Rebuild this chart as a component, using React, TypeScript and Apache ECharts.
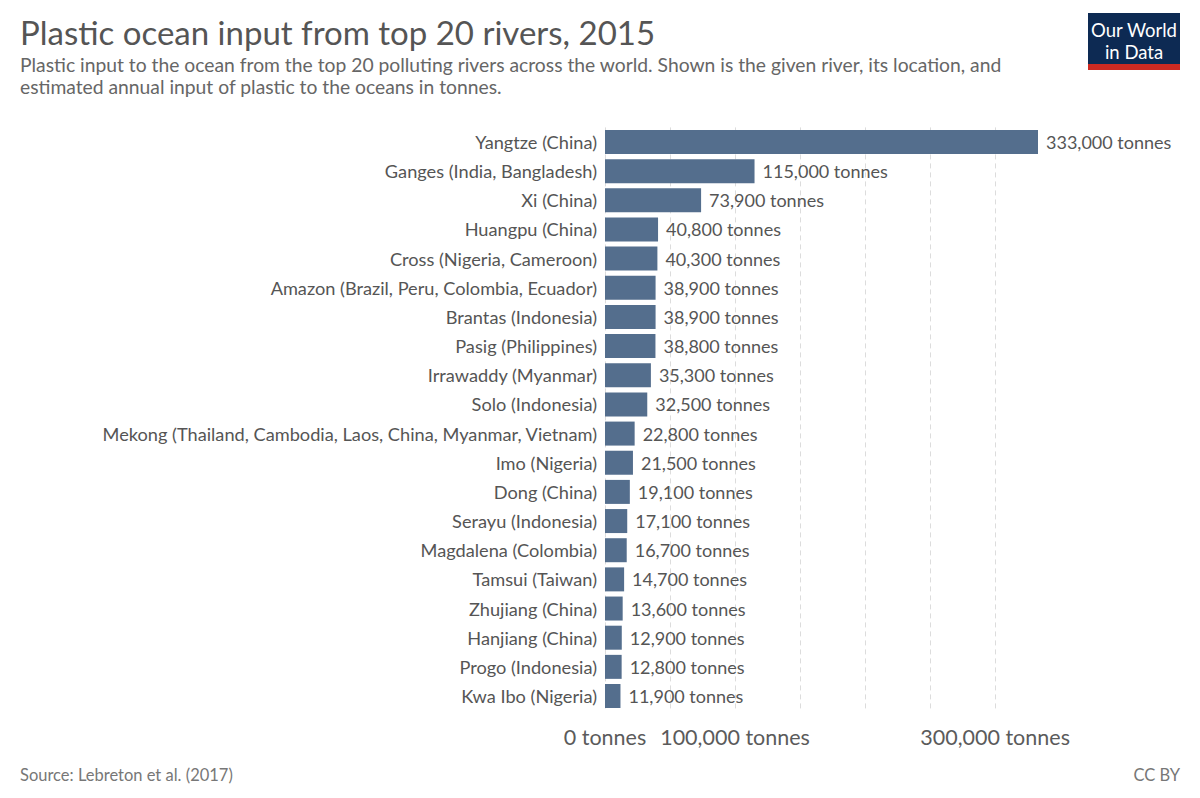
import React, { useEffect, useRef } from "react";
import * as echarts from "echarts";

const rivers = [
  "Yangtze (China)",
  "Ganges (India, Bangladesh)",
  "Xi (China)",
  "Huangpu (China)",
  "Cross (Nigeria, Cameroon)",
  "Amazon (Brazil, Peru, Colombia, Ecuador)",
  "Brantas (Indonesia)",
  "Pasig (Philippines)",
  "Irrawaddy (Myanmar)",
  "Solo (Indonesia)",
  "Mekong (Thailand, Cambodia, Laos, China, Myanmar, Vietnam)",
  "Imo (Nigeria)",
  "Dong (China)",
  "Serayu (Indonesia)",
  "Magdalena (Colombia)",
  "Tamsui (Taiwan)",
  "Zhujiang (China)",
  "Hanjiang (China)",
  "Progo (Indonesia)",
  "Kwa Ibo (Nigeria)",
];

const plasticTonnes = [
  333000, 115000, 73900, 40800, 40300, 38900, 38900, 38800, 35300, 32500,
  22800, 21500, 19100, 17100, 16700, 14700, 13600, 12900, 12800, 11900,
];

const gridValues = [0, 50000, 100000, 150000, 200000, 250000, 300000];
const shownTickLabels = [0, 100000, 300000];

const fmt = (v: number) => v.toLocaleString("en-US") + " tonnes";

export default function App() {
  const ref = useRef<HTMLDivElement>(null);
  useEffect(() => {
    document.body.style.margin = "0";
    if (!ref.current) return;
    const chart = echarts.init(ref.current, null, { renderer: "svg" });
    const font = "Lato, 'Noto Sans', sans-serif";
    chart.setOption({
      animation: false,
      textStyle: { fontFamily: font },
      grid: { left: 605, right: 162, top: 127.4, bottom: 87.4, containLabel: false },
      xAxis: {
        type: "value",
        min: 0,
        max: 333000,
        interval: 50000,
        splitLine: { show: false },
        axisLine: { show: false },
        axisTick: { show: false },
        axisLabel: {
          margin: 15,
          fontSize: 21.5,
          color: "#5b5b5b",
          fontFamily: font,
          showMaxLabel: false,
          formatter: (v: number) => (shownTickLabels.includes(v) ? fmt(v) : ""),
        },
      },
      yAxis: {
        type: "category",
        data: rivers,
        inverse: true,
        axisLine: { show: false },
        axisTick: { show: false },
        axisLabel: { fontSize: 18.2, color: "#555", margin: 8, fontFamily: font },
      },
      series: [
        {
          type: "bar",
          data: plasticTonnes,
          barWidth: 24,
          itemStyle: { color: "#546e8d" },
          label: {
            show: true,
            position: "right",
            distance: 8,
            fontSize: 18,
            color: "#555",
            fontFamily: font,
            formatter: (p: any) => fmt(p.value),
          },
          markLine: {
            silent: true,
            symbol: "none",
            z: 0,
            label: { show: false },
            lineStyle: { color: "#dcdcdc", type: [5, 4], width: 1 },
            data: gridValues.map((v) => ({ xAxis: v })),
          },
          z: 2,
        },
      ],
      graphic: [
        {
          type: "text",
          left: 20,
          top: 15,
          style: {
            text: "Plastic ocean input from top 20 rivers, 2015",
            fontSize: 33,
            fill: "#555",
            fontFamily: font,
          },
        },
        {
          type: "text",
          left: 20,
          top: 53,
          style: {
            text:
              "Plastic input to the ocean from the top 20 polluting rivers across the world. Shown is the given river, its location, and\nestimated annual input of plastic to the oceans in tonnes.",
            fontSize: 19.3,
            lineHeight: 22,
            fill: "#666",
            fontFamily: font,
          },
        },
        {
          type: "rect",
          shape: { x: 1088, y: 13, width: 92, height: 57 },
          style: { fill: "#0d2a53" },
        },
        {
          type: "rect",
          shape: { x: 1088, y: 64, width: 92, height: 6 },
          style: { fill: "#cd2a22" },
        },
        {
          type: "text",
          x: 1134,
          y: 30,
          style: {
            text: "Our World",
            fontSize: 18.5,
            fill: "#fff",
            align: "center",
            verticalAlign: "middle",
            fontFamily: font,
          },
        },
        {
          type: "text",
          x: 1134,
          y: 52,
          style: {
            text: "in Data",
            fontSize: 18.5,
            fill: "#fff",
            align: "center",
            verticalAlign: "middle",
            fontFamily: font,
          },
        },
        {
          type: "text",
          left: 20,
          top: 766,
          style: { text: "Source: Lebreton et al. (2017)", fontSize: 16.5, fill: "#777", fontFamily: font },
        },
        {
          type: "text",
          right: 20,
          top: 766,
          style: { text: "CC BY", fontSize: 16.5, fill: "#777", fontFamily: font },
        },
      ],
    });
    return () => chart.dispose();
  }, []);
  return <div ref={ref} style={{ width: 1200, height: 798 }} />;
}
